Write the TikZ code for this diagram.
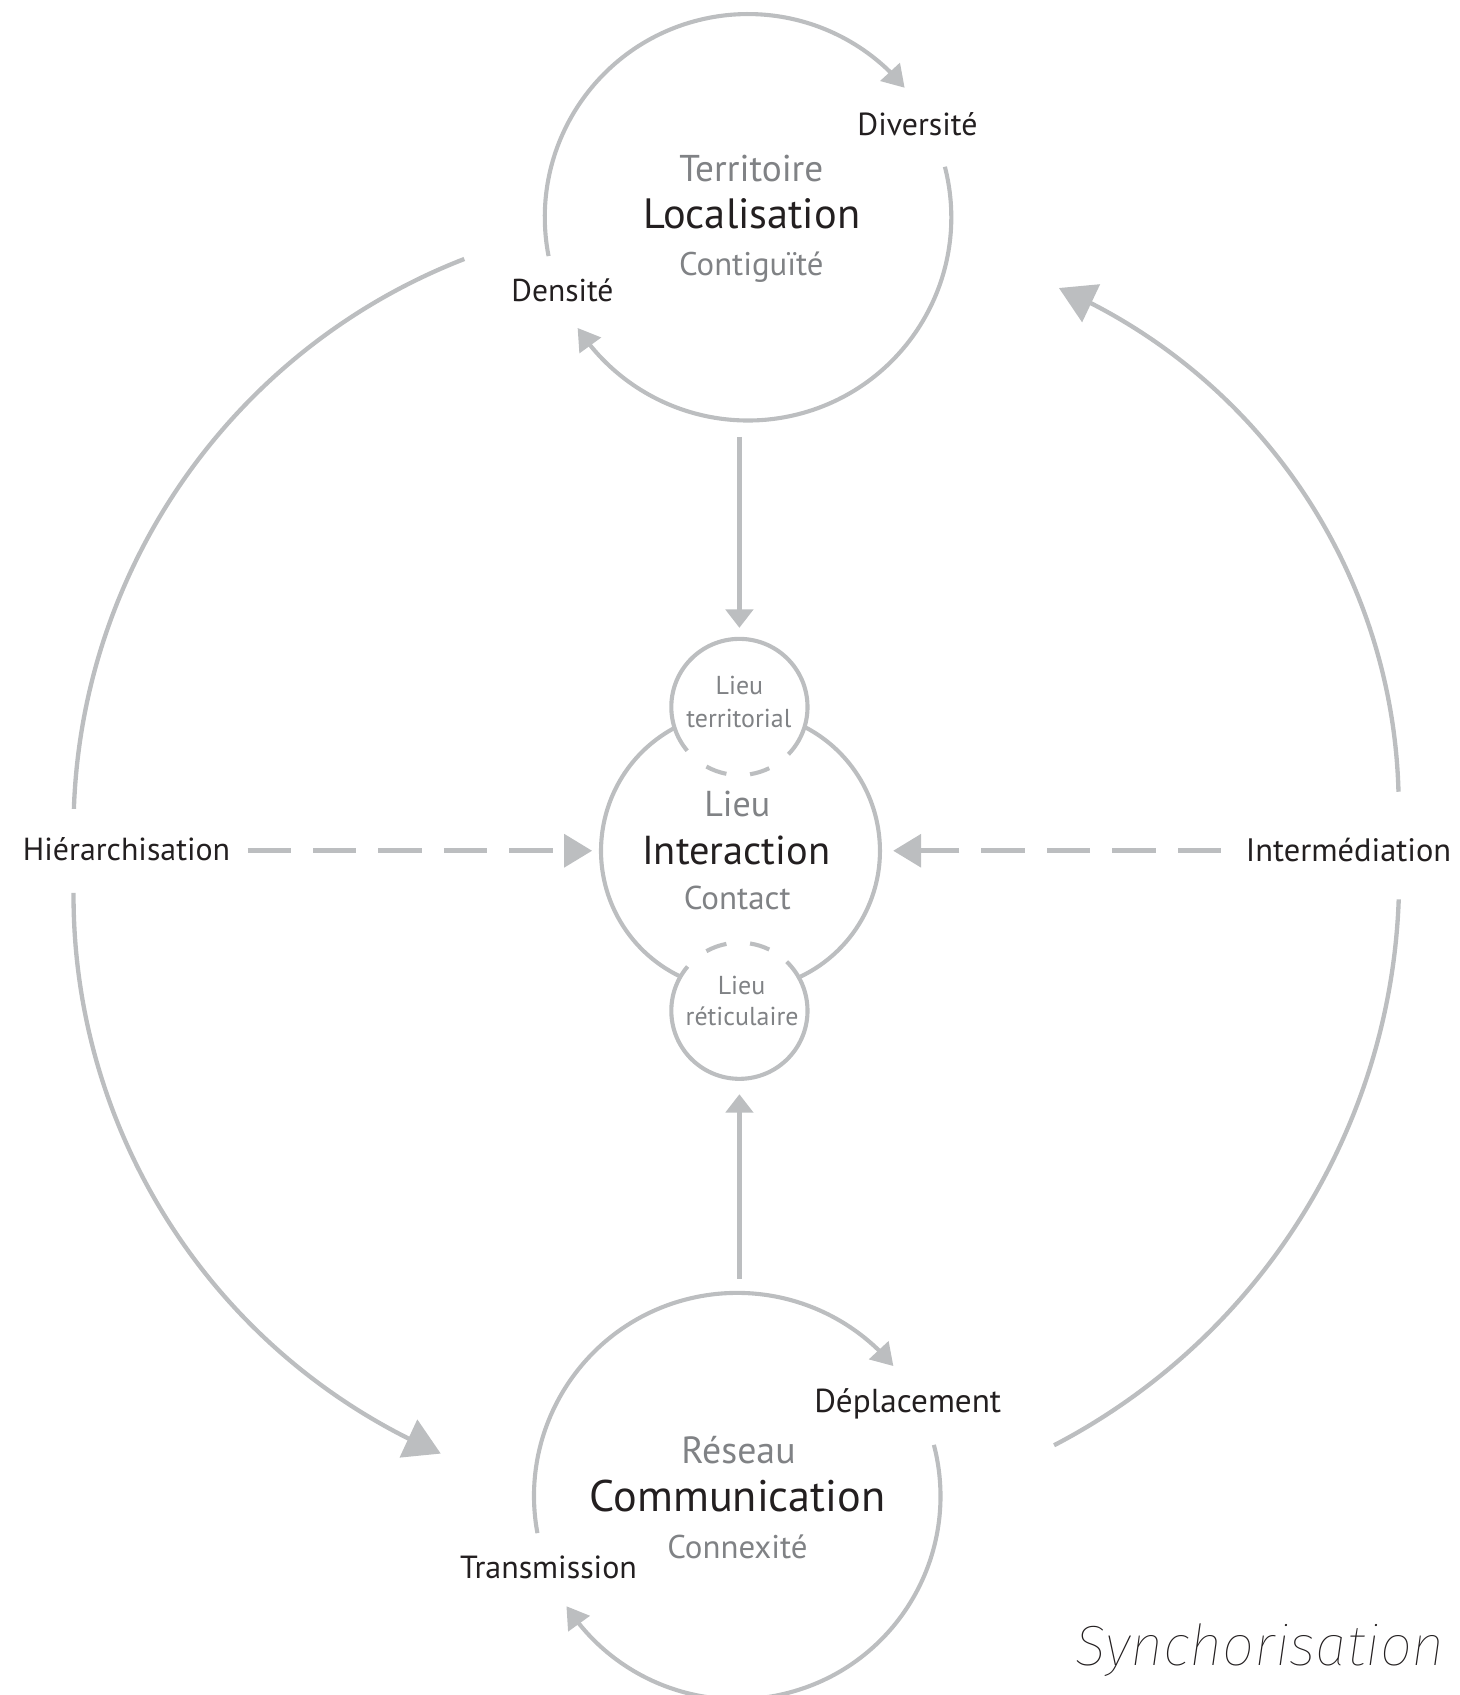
\documentclass[tikz,border=0pt]{standalone}
\usepackage{fontspec}
\setmainfont{PT Sans}
\IfFontExistsTF{Fira Sans Thin Italic}{\newfontfamily\synfont{Fira Sans Thin Italic}}{%
 \IfFontExistsTF{FiraSans-ThinItalic}{\newfontfamily\synfont{FiraSans-ThinItalic}}{%
  \IfFontExistsTF{Fira Sans ExtraLight Italic}{\newfontfamily\synfont{Fira Sans ExtraLight Italic}}{%
   \IfFontExistsTF{Lato Hairline Italic}{\newfontfamily\synfont{Lato Hairline Italic}}{%
    \IfFontExistsTF{Lato Thin Italic}{\newfontfamily\synfont{Lato Thin Italic}}{%
     \IfFontExistsTF{Fira Sans Light Italic}{\newfontfamily\synfont{Fira Sans Light Italic}}{%
      \IfFontExistsTF{Lato Light Italic}{\newfontfamily\synfont{Lato Light Italic}}{%
       \IfFontExistsTF{Open Sans Light Italic}{\newfontfamily\synfont{Open Sans Light Italic}}{%
        \newcommand\synfont{\fontspec{Liberation Sans}\itshape}}}}}}}}}
\usetikzlibrary{arrows.meta,bending,calc}
\definecolor{lg}{HTML}{BCBEC0}
\definecolor{tg}{HTML}{808285}
\definecolor{tb}{HTML}{231F20}
\tikzset{
  ref/.style={circle, inner sep=0pt, minimum size=#1},
  ring/.style={draw=lg, line width=3.8pt},
  arcarrow/.style={ring, -{Triangle[length=20pt,width=24pt]}},
  varrow/.style={draw=lg, line width=4.5pt, -{Triangle[length=17pt,width=25pt]}},
  dasharrow/.style={draw=lg, line width=5pt, dash pattern=on 40pt off 20.5pt, -{Triangle[length=26pt,width=30pt]}},
  bigline/.style={draw=lg, line width=4pt},
  bigarrow/.style={bigline, -{Triangle[length=33pt,width=38pt]}},
  btxt/.style={inner sep=0pt, anchor=base, text=tb, font=\fontsize{#1}{#1}\selectfont},
  gtxt/.style={inner sep=0pt, anchor=base, text=tg, font=\fontsize{#1}{#1}\selectfont},
}
\begin{document}
\begin{tikzpicture}[x=1pt,y=-1pt]
\useasboundingbox (0,0) rectangle (1349.7,1568);
% reference shapes
\node[ref=376pt] (loc) at (692,201) {};
\node[ref=376pt] (com) at (682,1384) {};
\node[ref=258pt] (inter) at (685,787) {};
\node[ref=126pt] (lt) at (684,654) {};
\node[ref=126pt] (lr) at (684,935) {};
% top cycle
\draw[arcarrow] (loc.center) ++(169:188) arc[start angle=169, end angle=320.4, radius=188];
\draw[arcarrow] (loc.center) ++(-14.4:188) arc[start angle=-14.4, end angle=147, radius=188];
% bottom cycle
\draw[arcarrow] (com.center) ++(169.5:188) arc[start angle=169.5, end angle=320.2, radius=188];
\draw[arcarrow] (com.center) ++(-14.6:188) arc[start angle=-14.6, end angle=147.2, radius=188];
% central cluster
\draw[ring] (inter.center) ++(-118.2:129) arc[start angle=-118.2, end angle=-244.5, radius=129];
\draw[ring] (inter.center) ++(-62.6:129) arc[start angle=-62.6, end angle=64.5, radius=129];
\draw[ring] (lt.center) ++(44:63) arc[start angle=44, end angle=-220, radius=63];
\draw[ring] (lt.center) ++(101:63) arc[start angle=101, end angle=119, radius=63];
\draw[ring] (lt.center) ++(64:63) arc[start angle=64, end angle=81, radius=63];
\draw[ring] (lr.center) ++(-46:63) arc[start angle=-46, end angle=220.5, radius=63];
\draw[ring] (lr.center) ++(-81:63) arc[start angle=-81, end angle=-64, radius=63];
\draw[ring] (lr.center) ++(-119:63) arc[start angle=-119, end angle=-101, radius=63];
% vertical arrows
\draw[varrow] ($(loc.south -| lt.north)+(0,15)$) -- ($(lt.north)+(0,-10)$);
\draw[varrow] ($(com.north -| lr.south)+(0,-13)$) -- ($(lr.south)+(0,14)$);
% outer arcs (centres of the circular pieces)
\coordinate (LU) at (635,768);
\coordinate (LD) at (630,828.5);
\coordinate (RU) at (770.4,746.3);
\coordinate (RD) at (701.3,811);
\draw[bigline] (LU) ++(-111.25:567) arc[start angle=-111.25, end angle=-178, radius=567];
\draw[bigarrow] (LD) ++(180.25:562) arc[start angle=180.25, end angle=113.3, radius=562];
\draw[bigline] (RD) ++(62.5:593) arc[start angle=62.5, end angle=2.03, radius=593];
\draw[bigarrow] (RU) ++(-1.52:523.5) arc[start angle=-1.52, end angle=-66.45, radius=523.5];
% side labels
\node[btxt=29.5, inner xsep=4pt] (hier) at (117.1,796) {Hiérarchisation};
\node[btxt=30, inner xsep=4pt] (interm) at (1247.5,797) {Intermédiation};
% dashed arrows
\draw[dasharrow] ($(hier.east |- inter.west)+(12,0)$) -- ($(inter.west)+(-8,0)$);
\draw[dasharrow] ($(interm.west |- inter.east)+(-19,0)$) -- ($(inter.east)+(12,0)$);
% texts top
\node[gtxt=34.5] (t1) at (695,168) {Territoire};
\node[btxt=39.2] (t2) at (695.6,211.2) {Localisation};
\node[gtxt=30.3] (t3) at (695,255.3) {Contiguïté};
\node[btxt=29.5] (t4) at (848.7,125.8) {Diversité};
\node[btxt=29.2] (t5) at (520.3,279) {Densité};
% texts center
\node[gtxt=24] (c1) at (684,642) {Lieu};
\node[gtxt=24] (c2) at (683.5,673) {territorial};
\node[gtxt=33.3] (c3) at (682,755.5) {Lieu};
\node[btxt=37.4] (c4) at (681,799.7) {Interaction};
\node[gtxt=30.5] (c5) at (682,841.8) {Contact};
\node[gtxt=24] (c6) at (686,920) {Lieu};
\node[gtxt=24] (c7) at (686.5,949) {réticulaire};
% texts bottom
\node[btxt=30.7] (b1) at (839.7,1306.7) {Déplacement};
\node[gtxt=35] (b2) at (683.2,1354.2) {Réseau};
\node[btxt=40.9] (b3) at (682.4,1398.3) {Communication};
\node[gtxt=30.4] (b4) at (682.2,1441.5) {Connexité};
\node[btxt=29.6] (b5) at (507.4,1460) {Transmission};
\node[inner sep=0pt, anchor=base, text=tb, font=\synfont\fontsize{52.5}{52.5}\selectfont] (syn) at (1165.8,1541) {Synchorisation};
\end{tikzpicture}
\end{document}
